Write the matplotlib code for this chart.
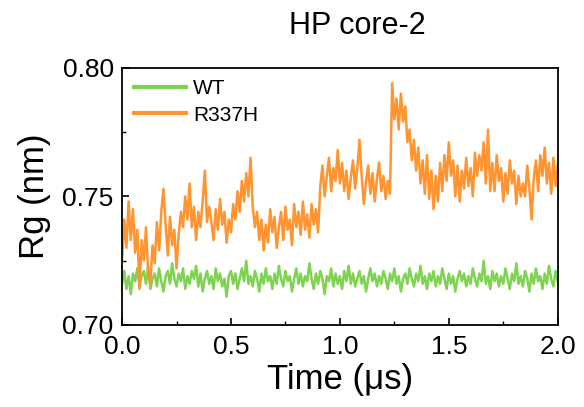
import numpy as np
import matplotlib
matplotlib.use("Agg")
import matplotlib.pyplot as plt
from matplotlib.ticker import MultipleLocator, FormatStrFormatter

plt.rcParams['font.family'] = ['Liberation Sans', 'DejaVu Sans']

# time axis, 0.01 us step
time_us = np.arange(201) * 0.01

# radius of gyration (nm)
rg_wt = [
    0.716, 0.721, 0.714, 0.719, 0.712, 0.720, 0.717, 0.722, 0.715, 0.719,
    0.721, 0.716, 0.723, 0.714, 0.718, 0.720, 0.715, 0.722, 0.717, 0.713,
    0.719, 0.721, 0.716, 0.724, 0.718, 0.715, 0.720, 0.717, 0.722, 0.714,
    0.719, 0.716, 0.721, 0.718, 0.723, 0.715, 0.720, 0.713, 0.718, 0.721,
    0.716, 0.719, 0.714, 0.722, 0.717, 0.720, 0.715, 0.718, 0.711, 0.719,
    0.721, 0.716, 0.720, 0.714, 0.718, 0.722, 0.717, 0.725, 0.716, 0.719,
    0.715, 0.721, 0.718, 0.713, 0.720, 0.716, 0.722, 0.717, 0.719, 0.714,
    0.720, 0.716, 0.723, 0.718, 0.715, 0.721, 0.717, 0.719, 0.713, 0.718,
    0.722, 0.716, 0.720, 0.715, 0.719, 0.717, 0.724, 0.718, 0.714, 0.720,
    0.716, 0.721, 0.718, 0.712, 0.719, 0.717, 0.722, 0.715, 0.720, 0.716,
    0.719, 0.714, 0.721, 0.717, 0.723, 0.716, 0.720, 0.715, 0.718, 0.721,
    0.716, 0.719, 0.713, 0.718, 0.722, 0.717, 0.720, 0.715, 0.719, 0.716,
    0.721, 0.718, 0.714, 0.720, 0.717, 0.722, 0.716, 0.719, 0.713, 0.718,
    0.720, 0.716, 0.722, 0.718, 0.715, 0.720, 0.717, 0.723, 0.716, 0.719,
    0.714, 0.720, 0.717, 0.721, 0.715, 0.719, 0.716, 0.722, 0.718, 0.714,
    0.720, 0.716, 0.719, 0.713, 0.718, 0.721, 0.717, 0.720, 0.715, 0.719,
    0.716, 0.722, 0.718, 0.715, 0.720, 0.717, 0.725, 0.716, 0.719, 0.714,
    0.721, 0.717, 0.720, 0.715, 0.719, 0.716, 0.722, 0.718, 0.714, 0.720,
    0.717, 0.724, 0.716, 0.719, 0.715, 0.721, 0.718, 0.713, 0.720, 0.716,
    0.722, 0.717, 0.719, 0.714, 0.720, 0.716, 0.723, 0.718, 0.715, 0.721,
    0.717,
]

rg_r337h = [
    0.725, 0.741, 0.730, 0.748, 0.733, 0.745, 0.728, 0.737, 0.714, 0.733,
    0.725, 0.738, 0.720, 0.716, 0.731, 0.724, 0.740, 0.729, 0.744, 0.753,
    0.739, 0.727, 0.742, 0.731, 0.737, 0.722, 0.735, 0.744, 0.738, 0.750,
    0.741, 0.755, 0.738, 0.746, 0.733, 0.744, 0.738, 0.748, 0.760, 0.740,
    0.746, 0.740, 0.733, 0.745, 0.737, 0.749, 0.739, 0.744, 0.732, 0.741,
    0.736, 0.747, 0.741, 0.752, 0.744, 0.756, 0.748, 0.759, 0.750, 0.765,
    0.746, 0.738, 0.744, 0.733, 0.741, 0.729, 0.739, 0.732, 0.745, 0.736,
    0.742, 0.730, 0.738, 0.744, 0.733, 0.746, 0.737, 0.741, 0.731, 0.747,
    0.738, 0.744, 0.735, 0.748, 0.737, 0.743, 0.734, 0.747, 0.739, 0.745,
    0.736, 0.754, 0.762, 0.750, 0.758, 0.765, 0.752, 0.761, 0.756, 0.768,
    0.755, 0.763, 0.752, 0.760, 0.749, 0.757, 0.764, 0.753, 0.761, 0.772,
    0.758, 0.747, 0.756, 0.762, 0.751, 0.759, 0.748, 0.757, 0.763, 0.752,
    0.758, 0.749, 0.756, 0.751, 0.794, 0.780, 0.788, 0.776, 0.790, 0.779,
    0.785, 0.771, 0.776, 0.764, 0.772, 0.760, 0.769, 0.755, 0.764, 0.751,
    0.766, 0.749, 0.760, 0.745, 0.758, 0.748, 0.763, 0.752, 0.766, 0.756,
    0.771, 0.758, 0.764, 0.750, 0.762, 0.748, 0.760, 0.753, 0.765, 0.754,
    0.761, 0.750, 0.767, 0.758, 0.766, 0.760, 0.771, 0.755, 0.776, 0.752,
    0.763, 0.752, 0.766, 0.756, 0.761, 0.748, 0.759, 0.751, 0.764, 0.755,
    0.760, 0.747, 0.758, 0.750, 0.755, 0.750, 0.762, 0.753, 0.741, 0.757,
    0.764, 0.752, 0.766, 0.758, 0.769, 0.755, 0.763, 0.751, 0.765, 0.754,
    0.762,
]

fig = plt.figure(figsize=(5.84, 4.07), dpi=100)
ax = fig.add_axes([0.209, 0.2015, 0.746, 0.632])

ax.plot(time_us, rg_wt, color='#7ed350', lw=1.8, label='WT')
ax.plot(time_us, rg_r337h, color='#ff9430', lw=1.8, label='R337H')

ax.set_xlim(0.0, 2.0)
ax.set_ylim(0.70, 0.80)
ax.xaxis.set_major_locator(MultipleLocator(0.5))
ax.xaxis.set_minor_locator(MultipleLocator(0.25))
ax.yaxis.set_major_locator(MultipleLocator(0.05))
ax.yaxis.set_minor_locator(MultipleLocator(0.025))
ax.xaxis.set_major_formatter(FormatStrFormatter('%.1f'))
ax.yaxis.set_major_formatter(FormatStrFormatter('%.2f'))

ax.tick_params(which='major', direction='in', length=5, width=1.2, labelsize=19)
ax.tick_params(axis='x', which='major', pad=7)
ax.tick_params(axis='y', which='major', pad=6)
ax.tick_params(which='minor', direction='in', length=3, width=1.0)
ax.tick_params(top=False, right=False)
for sp in ax.spines.values():
    sp.set_linewidth(1.3)

ax.set_xlabel('Time (μs)', fontsize=25, labelpad=3)
ax.set_ylabel('Rg (nm)', fontsize=25, labelpad=8)
ax.set_title('HP core-2', fontsize=22, pad=24, x=0.54)

leg = ax.legend(loc='upper left', frameon=False, fontsize=15, handlelength=2.5,
                handletextpad=0.35, labelspacing=0.35, borderaxespad=0.25,
                borderpad=0.3)
for line in leg.get_lines():
    line.set_linewidth(3)

fig.savefig('out.png', dpi=100)
